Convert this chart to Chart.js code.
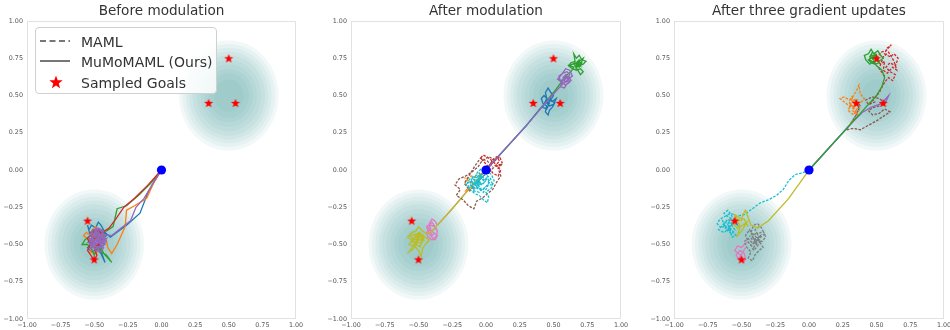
<!DOCTYPE html>
<html><head><meta charset="utf-8">
<script src="https://cdn.jsdelivr.net/npm/chart.js@4"></script>
<style>
body{margin:0;width:950px;height:330px;overflow:hidden;background:#fff;position:relative;font-family:"DejaVu Sans",sans-serif;}
canvas{position:absolute;top:0;}
#legend{position:absolute;left:35px;top:27px;width:182px;height:67px;border:1px solid #d0d0d0;border-radius:4px;background:rgba(255,255,255,0.85);box-sizing:border-box;color:#333;font-size:14px;}
#legend .row{position:absolute;left:0;height:20px;width:100%;}
#legend svg{position:absolute;left:3px;top:0;}
#legend span{position:absolute;left:45px;top:1px;line-height:18px;white-space:nowrap;}
</style></head><body>
<canvas id="c1" width="310" height="330" style="left:0px"></canvas>
<canvas id="c2" width="314" height="330" style="left:321px"></canvas>
<canvas id="c3" width="320" height="330" style="left:644px"></canvas>
<div id="legend">
  <div class="row" style="top:4px"><svg width="36" height="20"><line x1="1" y1="9" x2="31" y2="9" stroke="#777" stroke-width="2" stroke-dasharray="6,3.5"/></svg><span>MAML</span></div>
  <div class="row" style="top:24px"><svg width="36" height="20"><line x1="1" y1="9" x2="31" y2="9" stroke="#777" stroke-width="2"/></svg><span>MuMoMAML (Ours)</span></div>
  <div class="row" style="top:45px"><svg width="36" height="20"><polygon id="lstar" fill="#ff0000"/></svg><span>Sampled Goals</span></div>
</div>
<script>
// ---------- data ----------
const panelTitles = ["Before modulation", "After modulation", "After three gradient updates"];
const tickValues = [-1, -0.75, -0.5, -0.25, 0, 0.25, 0.5, 0.75, 1];
const goalsX = [0.5, 0.35, 0.55, -0.55, -0.5];
const goalsY = [0.75, 0.45, 0.45, -0.34, -0.6];
const startPoint = [0, 0];
const blobCenters = [[0.5, 0.5], [-0.5, -0.5]];
const blobRadii = [0.37, 0.345, 0.32, 0.295, 0.27, 0.24, 0.21, 0.18, 0.15, 0.11];

// Panel 1: before modulation (MuMoMAML, solid)
const p1Blue = [[0,0],[-0.05,-0.07],[-0.1,-0.15],[-0.16,-0.29],[-0.26,-0.37],[-0.38,-0.45],[-0.42,-0.42],[-0.45,-0.37],[-0.47,-0.35],[-0.49,-0.39],[-0.52,-0.37],[-0.54,-0.4],[-0.55,-0.37],[-0.53,-0.44],[-0.5,-0.46],[-0.52,-0.5],[-0.55,-0.52],[-0.52,-0.55],[-0.48,-0.53],[-0.45,-0.56],[-0.43,-0.6],[-0.42,-0.62],[-0.44,-0.57],[-0.47,-0.51],[-0.44,-0.47],[-0.41,-0.44],[-0.44,-0.41],[-0.48,-0.43],[-0.51,-0.41],[-0.49,-0.47],[-0.46,-0.49],[-0.5,-0.52],[-0.53,-0.48],[-0.5,-0.44],[-0.46,-0.45],[-0.43,-0.5],[-0.46,-0.54]];
const p1Orange = [[0,0],[-0.06,-0.09],[-0.11,-0.19],[-0.2,-0.24],[-0.26,-0.27],[-0.27,-0.38],[-0.33,-0.5],[-0.37,-0.56],[-0.4,-0.52],[-0.41,-0.47],[-0.44,-0.44],[-0.48,-0.42],[-0.52,-0.44],[-0.56,-0.42],[-0.58,-0.44],[-0.54,-0.47],[-0.51,-0.45],[-0.47,-0.47],[-0.44,-0.49],[-0.47,-0.52],[-0.51,-0.51],[-0.53,-0.55],[-0.49,-0.56],[-0.46,-0.53],[-0.43,-0.46],[-0.45,-0.42],[-0.49,-0.38],[-0.52,-0.41],[-0.5,-0.48],[-0.47,-0.44]];
const p1Green = [[0,0],[-0.08,-0.09],[-0.17,-0.17],[-0.26,-0.24],[-0.33,-0.26],[-0.36,-0.38],[-0.41,-0.41],[-0.45,-0.4],[-0.5,-0.41],[-0.53,-0.44],[-0.57,-0.47],[-0.59,-0.5],[-0.55,-0.5],[-0.52,-0.53],[-0.5,-0.57],[-0.48,-0.53],[-0.45,-0.52],[-0.43,-0.56],[-0.4,-0.59],[-0.37,-0.62],[-0.41,-0.57],[-0.45,-0.55],[-0.48,-0.5],[-0.46,-0.46],[-0.43,-0.43],[-0.47,-0.42],[-0.51,-0.47],[-0.54,-0.48],[-0.5,-0.45],[-0.46,-0.49],[-0.44,-0.46]];
const p1Red = [[0,0],[-0.1,-0.1],[-0.2,-0.19],[-0.28,-0.25],[-0.34,-0.33],[-0.39,-0.39],[-0.44,-0.42],[-0.48,-0.41],[-0.52,-0.43],[-0.55,-0.46],[-0.53,-0.5],[-0.55,-0.54],[-0.52,-0.58],[-0.5,-0.61],[-0.48,-0.57],[-0.5,-0.53],[-0.47,-0.5],[-0.44,-0.48],[-0.46,-0.44],[-0.5,-0.46],[-0.53,-0.42],[-0.5,-0.4],[-0.46,-0.41],[-0.43,-0.45],[-0.45,-0.51],[-0.49,-0.49],[-0.52,-0.47]];
const p1Purple = [[0,0],[-0.07,-0.1],[-0.13,-0.19],[-0.19,-0.25],[-0.23,-0.34],[-0.3,-0.39],[-0.37,-0.44],[-0.44,-0.43],[-0.47,-0.45],[-0.5,-0.42],[-0.48,-0.39],[-0.45,-0.41],[-0.42,-0.44],[-0.44,-0.48],[-0.49,-0.49],[-0.52,-0.46],[-0.54,-0.49],[-0.51,-0.52],[-0.47,-0.53],[-0.44,-0.51],[-0.41,-0.48],[-0.43,-0.45],[-0.46,-0.43],[-0.5,-0.45],[-0.53,-0.43],[-0.51,-0.4],[-0.47,-0.41],[-0.45,-0.46],[-0.48,-0.5],[-0.52,-0.5],[-0.49,-0.54],[-0.45,-0.55],[-0.43,-0.52],[-0.46,-0.49],[-0.5,-0.47],[-0.54,-0.46],[-0.52,-0.42],[-0.48,-0.44],[-0.44,-0.45],[-0.42,-0.5],[-0.46,-0.52],[-0.5,-0.51],[-0.53,-0.53],[-0.49,-0.47],[-0.46,-0.45],[-0.43,-0.41],[-0.47,-0.39],[-0.5,-0.43],[-0.48,-0.47],[-0.45,-0.5],[-0.41,-0.46],[-0.44,-0.47],[-0.46,-0.48],[-0.48,-0.46],[-0.5,-0.48],[-0.49,-0.5],[-0.47,-0.49],[-0.45,-0.47],[-0.44,-0.49],[-0.46,-0.51],[-0.48,-0.52],[-0.51,-0.49],[-0.52,-0.47],[-0.5,-0.45],[-0.48,-0.42],[-0.46,-0.44],[-0.44,-0.43],[-0.43,-0.47],[-0.45,-0.49],[-0.47,-0.47],[-0.49,-0.45],[-0.51,-0.44],[-0.53,-0.47],[-0.51,-0.5],[-0.48,-0.49],[-0.46,-0.46]];

// Panel 2: after modulation
const p2Purple = [[0,0],[0.15,0.15],[0.3,0.3],[0.45,0.46],[0.55,0.56],[0.58,0.55],[0.6,0.58],[0.63,0.6],[0.61,0.63],[0.58,0.61],[0.55,0.6],[0.54,0.63],[0.57,0.65],[0.6,0.66],[0.62,0.64],[0.6,0.6],[0.57,0.58],[0.55,0.56],[0.58,0.62],[0.61,0.61],[0.64,0.63],[0.62,0.67],[0.59,0.68],[0.56,0.64],[0.53,0.61],[0.56,0.59],[0.59,0.57],[0.62,0.59],[0.6,0.63],[0.58,0.6],[0.57,0.62],[0.59,0.64],[0.61,0.6],[0.59,0.59],[0.57,0.61]];
const p2Green = [[0,0],[0.3,0.3],[0.5,0.52],[0.6,0.64],[0.63,0.66],[0.65,0.69],[0.62,0.7],[0.66,0.72],[0.69,0.7],[0.72,0.71],[0.74,0.73],[0.71,0.74],[0.69,0.77],[0.67,0.75],[0.65,0.78],[0.66,0.73],[0.63,0.72],[0.61,0.7],[0.64,0.68],[0.67,0.67],[0.7,0.68],[0.72,0.66],[0.7,0.64],[0.68,0.67],[0.66,0.7],[0.69,0.73],[0.72,0.75],[0.7,0.71],[0.67,0.69],[0.68,0.71],[0.66,0.69],[0.68,0.72],[0.7,0.7],[0.69,0.74],[0.67,0.72],[0.65,0.71],[0.67,0.7],[0.69,0.69],[0.71,0.72],[0.68,0.73]];
const p2Blue = [[0,0],[0.3,0.3],[0.4,0.41],[0.43,0.44],[0.45,0.48],[0.44,0.52],[0.46,0.55],[0.48,0.52],[0.5,0.5],[0.48,0.47],[0.51,0.45],[0.49,0.42],[0.47,0.4],[0.46,0.37],[0.44,0.39],[0.45,0.43],[0.42,0.45],[0.41,0.48],[0.43,0.5],[0.46,0.47],[0.49,0.46],[0.52,0.48],[0.5,0.44],[0.47,0.43],[0.44,0.46],[0.42,0.42],[0.45,0.41],[0.47,0.45],[0.45,0.46],[0.46,0.44],[0.48,0.49]];
const p2Cyan = [[0,0],[-0.03,-0.03],[-0.06,-0.05],[-0.04,-0.09],[-0.08,-0.08],[-0.11,-0.1],[-0.09,-0.13],[-0.06,-0.12],[-0.03,-0.14],[0,-0.11],[0.03,-0.08],[0.01,-0.05],[-0.02,-0.07],[-0.05,-0.02],[-0.08,-0.04],[-0.12,-0.06],[-0.14,-0.09],[-0.12,-0.13],[-0.08,-0.16],[-0.05,-0.17],[-0.02,-0.2],[0.01,-0.22],[0.02,-0.18],[0,-0.15],[0.04,-0.12],[0.06,-0.07],[0.04,-0.03],[0.01,-0.01],[-0.03,0.01],[-0.06,-0.01],[-0.09,-0.06],[-0.06,-0.09],[-0.03,-0.1],[-0.01,-0.08],[-0.04,-0.05],[-0.07,-0.07],[-0.1,-0.11],[-0.13,-0.12],[-0.15,-0.1],[-0.11,-0.07],[-0.07,-0.11],[-0.04,-0.13],[-0.01,-0.12],[0.02,-0.1],[0.05,-0.1],[0.03,-0.05],[-0.01,-0.03],[-0.05,-0.07],[-0.09,-0.09],[-0.07,-0.08],[-0.05,-0.1],[-0.02,-0.09],[0.0,-0.07],[-0.03,-0.06],[-0.06,-0.06],[-0.08,-0.1],[-0.06,-0.13],[-0.03,-0.12],[-0.05,-0.15],[-0.09,-0.14],[-0.1,-0.09],[-0.07,-0.05],[-0.04,-0.03],[-0.01,-0.06],[0.02,-0.07],[0.01,-0.12],[-0.02,-0.15],[-0.06,-0.1],[-0.1,-0.05],[-0.12,-0.1],[-0.08,-0.12],[-0.04,-0.07]];
const p2Brown = [[0,0],[0.03,0.04],[0.06,0.07],[0.02,0.09],[-0.03,0.06],[-0.06,0.02],[-0.1,-0.01],[-0.15,-0.04],[-0.2,-0.06],[-0.23,-0.1],[-0.19,-0.13],[-0.22,-0.17],[-0.17,-0.2],[-0.13,-0.24],[-0.09,-0.26],[-0.07,-0.21],[-0.03,-0.19],[0.01,-0.16],[0.05,-0.13],[0.08,-0.08],[0.11,-0.04],[0.09,0.01],[0.12,0.04],[0.07,0.03],[0.03,-0.01],[-0.02,-0.04],[-0.07,-0.09],[-0.12,-0.14],[-0.16,-0.09],[-0.12,-0.03],[-0.08,0.03],[-0.04,0.08],[0.01,0.06],[0.05,0.02]];
const p2Red = [[0,0],[0.03,0.03],[0.05,0.07],[0.08,0.09],[0.1,0.06],[0.07,0.03],[0.11,0.0],[0.09,-0.04],[0.05,-0.02],[0.02,0.02],[-0.01,0.05],[-0.04,0.08],[-0.02,0.1],[0.02,0.08],[0.06,0.05],[0.09,0.02],[0.12,0.05],[0.1,0.09],[0.04,0.04]];
const p2Orange = [[0,0],[-0.04,-0.03],[-0.08,-0.05],[-0.11,-0.04],[-0.14,-0.06],[-0.16,-0.09],[-0.13,-0.11],[-0.15,-0.14],[-0.11,-0.13],[-0.09,-0.09],[-0.12,-0.08],[-0.16,-0.05]];
const p2Olive = [[0,0],[-0.1,-0.1],[-0.25,-0.26],[-0.4,-0.41],[-0.44,-0.43],[-0.47,-0.41],[-0.5,-0.38],[-0.52,-0.41],[-0.55,-0.42],[-0.58,-0.45],[-0.55,-0.47],[-0.57,-0.5],[-0.53,-0.51],[-0.5,-0.54],[-0.48,-0.58],[-0.47,-0.53],[-0.45,-0.5],[-0.42,-0.47],[-0.45,-0.45],[-0.49,-0.47],[-0.52,-0.45],[-0.5,-0.42],[-0.46,-0.44],[-0.48,-0.49],[-0.53,-0.48],[-0.56,-0.44],[-0.52,-0.43],[-0.49,-0.44],[-0.51,-0.49],[-0.54,-0.53],[-0.57,-0.55],[-0.52,-0.48],[-0.5,-0.44],[-0.53,-0.45],[-0.55,-0.48],[-0.52,-0.5],[-0.49,-0.51],[-0.47,-0.48],[-0.48,-0.45],[-0.51,-0.43],[-0.54,-0.46],[-0.5,-0.47],[-0.46,-0.47],[-0.49,-0.42],[-0.52,-0.5],[-0.48,-0.52]];
const p2Pink = [[0,0],[-0.1,-0.1],[-0.25,-0.26],[-0.36,-0.37],[-0.38,-0.34],[-0.4,-0.33],[-0.42,-0.36],[-0.41,-0.4],[-0.44,-0.42],[-0.43,-0.45],[-0.4,-0.47],[-0.37,-0.45],[-0.36,-0.41],[-0.38,-0.38],[-0.41,-0.37],[-0.43,-0.39],[-0.39,-0.42],[-0.36,-0.44],[-0.38,-0.47],[-0.42,-0.43],[-0.44,-0.38],[-0.4,-0.35],[-0.37,-0.39],[-0.39,-0.4],[-0.41,-0.42],[-0.4,-0.44],[-0.38,-0.42]];

// Panel 3: after three gradient updates
const p3Green = [[0,0],[0.15,0.15],[0.3,0.3],[0.42,0.42],[0.5,0.5],[0.54,0.56],[0.56,0.62],[0.54,0.67],[0.5,0.7],[0.48,0.73],[0.45,0.71],[0.42,0.74],[0.41,0.77],[0.44,0.78],[0.46,0.81],[0.48,0.78],[0.51,0.8],[0.53,0.77],[0.55,0.75],[0.52,0.73],[0.5,0.75],[0.47,0.76],[0.44,0.74],[0.46,0.72],[0.49,0.71],[0.52,0.72],[0.5,0.77],[0.47,0.79],[0.45,0.76],[0.48,0.74],[0.47,0.75],[0.49,0.77],[0.46,0.77],[0.45,0.74],[0.48,0.72],[0.51,0.74],[0.49,0.76],[0.47,0.74],[0.5,0.78],[0.48,0.76]];
const p3Red = [[0.45,0.44],[0.52,0.52],[0.56,0.59],[0.59,0.62],[0.62,0.6],[0.64,0.64],[0.6,0.66],[0.57,0.69],[0.6,0.72],[0.64,0.7],[0.66,0.75],[0.63,0.78],[0.6,0.76],[0.56,0.78],[0.58,0.82],[0.61,0.84],[0.57,0.8],[0.53,0.79],[0.5,0.74],[0.53,0.71],[0.56,0.73],[0.55,0.67],[0.58,0.65],[0.62,0.69],[0.65,0.67],[0.63,0.73],[0.59,0.79],[0.55,0.76],[0.52,0.68],[0.56,0.63]];
const p3Orange = [[0.3,0.3],[0.33,0.34],[0.36,0.37],[0.34,0.41],[0.3,0.43],[0.27,0.45],[0.23,0.48],[0.26,0.49],[0.3,0.47],[0.33,0.5],[0.35,0.53],[0.37,0.57],[0.38,0.51],[0.41,0.48],[0.38,0.45],[0.35,0.45],[0.32,0.4],[0.35,0.38],[0.38,0.41],[0.36,0.47],[0.32,0.46],[0.29,0.4],[0.33,0.37],[0.37,0.43],[0.34,0.44],[0.32,0.48],[0.3,0.45],[0.33,0.42],[0.36,0.44],[0.34,0.47],[0.31,0.5]];
const p3Blue = [[0,0],[0.3,0.3],[0.35,0.37],[0.37,0.41],[0.36,0.45],[0.38,0.43]];
const p3Purple = [[0,0],[0.3,0.3],[0.4,0.39],[0.46,0.42],[0.52,0.44],[0.57,0.46],[0.59,0.5],[0.56,0.47],[0.55,0.44]];
const p3Brown = [[0.28,0.27],[0.33,0.28],[0.38,0.27],[0.44,0.3],[0.5,0.33],[0.55,0.36],[0.6,0.39],[0.56,0.41],[0.52,0.38],[0.47,0.37],[0.44,0.4],[0.48,0.42],[0.52,0.43],[0.56,0.45],[0.52,0.48],[0.47,0.49],[0.42,0.47],[0.44,0.44],[0.5,0.46]];
const p3Olive = [[0,0],[-0.15,-0.19],[-0.3,-0.34],[-0.38,-0.39],[-0.43,-0.37],[-0.45,-0.32],[-0.47,-0.27],[-0.49,-0.3],[-0.5,-0.34],[-0.54,-0.33],[-0.56,-0.36],[-0.53,-0.39],[-0.49,-0.37],[-0.46,-0.35],[-0.5,-0.41],[-0.53,-0.44],[-0.51,-0.38],[-0.55,-0.3],[-0.52,-0.32],[-0.48,-0.33],[-0.45,-0.38]];
const p3Cyan = [[0,0],[-0.05,-0.02],[-0.1,-0.03],[-0.15,-0.07],[-0.19,-0.13],[-0.24,-0.17],[-0.3,-0.2],[-0.36,-0.22],[-0.42,-0.26],[-0.48,-0.3],[-0.54,-0.31],[-0.58,-0.29],[-0.62,-0.31],[-0.66,-0.33],[-0.68,-0.36],[-0.65,-0.39],[-0.62,-0.37],[-0.6,-0.41],[-0.57,-0.43],[-0.55,-0.4],[-0.58,-0.36],[-0.61,-0.34],[-0.64,-0.37],[-0.67,-0.4],[-0.63,-0.42],[-0.59,-0.39],[-0.56,-0.35],[-0.53,-0.37],[-0.55,-0.33],[-0.59,-0.32],[-0.63,-0.29],[-0.6,-0.27],[-0.57,-0.31],[-0.6,-0.36],[-0.57,-0.45],[-0.54,-0.44],[-0.6,-0.37],[-0.62,-0.35],[-0.64,-0.34],[-0.62,-0.39],[-0.59,-0.38],[-0.57,-0.36],[-0.6,-0.33],[-0.63,-0.36],[-0.61,-0.4],[-0.58,-0.41],[-0.6,-0.38]];
const p3Grey = [[-0.37,-0.38],[-0.4,-0.4],[-0.38,-0.43],[-0.34,-0.41],[-0.32,-0.45],[-0.35,-0.48],[-0.39,-0.47],[-0.42,-0.49],[-0.45,-0.46],[-0.48,-0.48],[-0.46,-0.52],[-0.43,-0.55],[-0.45,-0.59],[-0.42,-0.61],[-0.4,-0.57],[-0.37,-0.54],[-0.34,-0.52],[-0.36,-0.49],[-0.4,-0.44],[-0.43,-0.42],[-0.41,-0.37],[-0.38,-0.36],[-0.35,-0.39],[-0.33,-0.43],[-0.37,-0.46],[-0.41,-0.52],[-0.44,-0.5],[-0.47,-0.44],[-0.44,-0.4],[-0.39,-0.5],[-0.36,-0.44],[-0.4,-0.47],[-0.42,-0.45],[-0.39,-0.42],[-0.37,-0.45],[-0.4,-0.49],[-0.43,-0.5],[-0.41,-0.54],[-0.38,-0.51],[-0.36,-0.47],[-0.39,-0.46],[-0.42,-0.47],[-0.44,-0.44]];
const p3Pink = [[-0.45,-0.48],[-0.48,-0.5],[-0.5,-0.52],[-0.53,-0.51],[-0.55,-0.54],[-0.52,-0.56],[-0.5,-0.58],[-0.49,-0.62],[-0.47,-0.6],[-0.48,-0.56],[-0.51,-0.54],[-0.54,-0.57],[-0.52,-0.6],[-0.49,-0.55],[-0.47,-0.52]];

// ---------- styling ----------
const C = {blue:'#1f77b4',orange:'#ff7f0e',green:'#2ca02c',red:'#d62728',purple:'#9467bd',brown:'#8c564b',pink:'#e377c2',grey:'#7f7f7f',olive:'#bcbd22',cyan:'#17becf'};
// listed top-most first: [points, colour, dashed(MAML)]
const panels = [
  [[p1Purple,C.purple,false],[p1Red,C.red,false],[p1Green,C.green,false],[p1Orange,C.orange,false],[p1Blue,C.blue,false]],
  [[p2Purple,C.purple,false],[p2Cyan,C.cyan,true],[p2Red,C.red,true],[p2Brown,C.brown,true],[p2Orange,C.orange,true],[p2Olive,C.olive,false],[p2Pink,C.pink,false],[p2Blue,C.blue,false],[p2Green,C.green,false]],
  [[p3Green,C.green,false],[p3Red,C.red,true],[p3Orange,C.orange,true],[p3Purple,C.purple,false],[p3Blue,C.blue,false],[p3Brown,C.brown,true],[p3Olive,C.olive,false],[p3Cyan,C.cyan,true],[p3Grey,C.grey,true],[p3Pink,C.pink,false]]
];

function starPoints(cx, cy, R, r){
  const pts=[];
  for(let i=0;i<10;i++){
    const a = -Math.PI/2 + i*Math.PI/5;
    const rad = i%2===0 ? R : r;
    pts.push([cx+rad*Math.cos(a), cy+rad*Math.sin(a)]);
  }
  return pts;
}
function makeStar(R){
  const s = Math.ceil(R*2+2), c = document.createElement('canvas');
  c.width=s; c.height=s;
  const g=c.getContext('2d');
  g.fillStyle='#ff0000';
  g.beginPath();
  starPoints(s/2, s/2+R*0.1, R, R*0.42).forEach((p,i)=> i?g.lineTo(p[0],p[1]):g.moveTo(p[0],p[1]));
  g.closePath(); g.fill();
  return c;
}
document.getElementById('lstar').setAttribute('points', starPoints(17,9.5,7,2.9).map(p=>p.join(',')).join(' '));
const starImg = makeStar(4.8);

const blobColor = 'rgba(70,150,160,0.071)';
const decor = {
  id:'decor',
  beforeDatasetsDraw(chart){
    const {ctx, chartArea:a, scales:{x, y}} = chart;
    ctx.save();
    ctx.beginPath(); ctx.rect(a.left, a.top, a.width, a.height); ctx.clip();
    blobCenters.forEach(c=>{
      const cx = x.getPixelForValue(c[0]), cy = y.getPixelForValue(c[1]);
      blobRadii.forEach(r=>{
        const rx = Math.abs(x.getPixelForValue(c[0]+r)-cx), ry = Math.abs(y.getPixelForValue(c[1]+r)-cy);
        ctx.beginPath(); ctx.ellipse(cx, cy, rx, ry, 0, 0, Math.PI*2);
        ctx.fillStyle = blobColor; ctx.fill();
      });
    });
    ctx.restore();
    ctx.save();
    ctx.strokeStyle = '#e2e2e2'; ctx.lineWidth = 1;
    ctx.strokeRect(Math.round(a.left)+0.5, Math.round(a.top)+0.5, Math.round(a.width)-1, Math.round(a.height)-1);
    ctx.restore();
  }
};

function fmt(v){ return v.toFixed(2).replace('-', '\u2212'); }
const tickFont = {family:'DejaVu Sans', size:6.4};

function makeChart(id, idx, yWidth, padRight){
  const ds = [];
  ds.push({data:[{x:startPoint[0], y:startPoint[1]}], pointRadius:4.6, pointBackgroundColor:'#0000ff', pointBorderWidth:0, showLine:false, order:0});
  ds.push({data:goalsX.map((gx,i)=>({x:gx, y:goalsY[i]})), pointStyle:starImg, pointRadius:5, showLine:false, order:1});
  panels[idx].forEach((p,k)=>{
    ds.push({data:p[0].map(q=>({x:q[0], y:q[1]})), borderColor:p[1], borderWidth: 1.3, borderDash: p[2]?[2.6,1.4]:[], showLine:true, pointRadius:0, tension:0, order:2+k});
  });
  return new Chart(document.getElementById(id), {
    type:'scatter',
    data:{datasets:ds},
    options:{
      responsive:false, animation:false, devicePixelRatio:1,
      layout:{padding:{right:padRight, top:0, bottom:0, left:0}},
      plugins:{
        legend:{display:false}, tooltip:{enabled:false},
        title:{display:true, text:panelTitles[idx], fullSize:false, color:'#333', font:{family:'DejaVu Sans', size:13.6, weight:'normal', lineHeight:1.2}, padding:{top:3, bottom:1.7}}
      },
      scales:{
        x:{type:'linear', min:-1, max:1, afterBuildTicks(s){ s.ticks = tickValues.map(v=>({value:v})); },
           grid:{display:false, drawTicks:false}, border:{display:false},
           ticks:{callback:fmt, color:'#555', font:tickFont, padding:3, maxRotation:0, autoSkip:false},
           afterFit(s){ s.height = 11; }},
        y:{type:'linear', min:-1, max:1, afterBuildTicks(s){ s.ticks = tickValues.map(v=>({value:v})); },
           grid:{display:false, drawTicks:false}, border:{display:false},
           ticks:{callback:fmt, color:'#555', font:tickFont, padding:4, autoSkip:false},
           afterFit(s){ s.width = yWidth; }}
      }
    },
    plugins:[decor]
  });
}
makeChart('c1', 0, 27, 14);
makeChart('c2', 1, 30, 14);
makeChart('c3', 2, 30, 20);
</script>
</body></html>
